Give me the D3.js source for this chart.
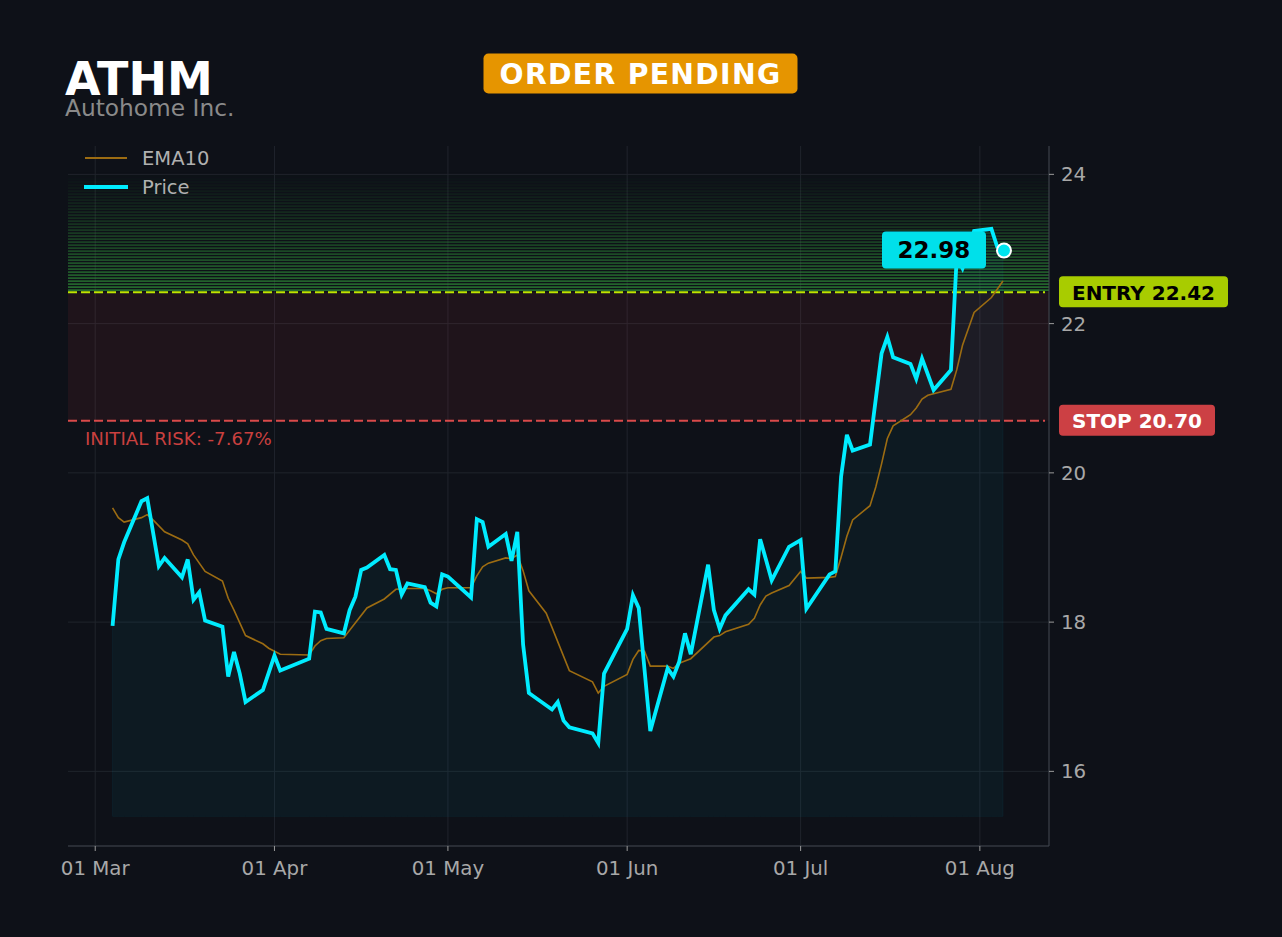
<!DOCTYPE html>
<html><head><meta charset="utf-8">
<script src="https://cdn.jsdelivr.net/npm/d3@7"></script>
<style>html,body{margin:0;padding:0;background:#0e1118;}svg{display:block;font-family:"DejaVu Sans",sans-serif;}</style>
</head><body>
<svg id="c" width="1282" height="937"></svg>
<script>
const ticker = "ATHM";
const company = "Autohome Inc.";
const statusText = "ORDER PENDING";
const entry = 22.42;
const stop = 20.70;
const lastPrice = 22.98;
const riskLabel = "INITIAL RISK: -7.67%";
const yTicks = [16, 18, 20, 22, 24];
const seriesNames = ["EMA10", "Price"];

const priceDates = ["2026-03-04","2026-03-05","2026-03-06","2026-03-09","2026-03-10","2026-03-12","2026-03-13","2026-03-16","2026-03-17","2026-03-18","2026-03-19","2026-03-20","2026-03-23","2026-03-24","2026-03-25","2026-03-26","2026-03-27","2026-03-30","2026-04-01","2026-04-02","2026-04-07","2026-04-08","2026-04-09","2026-04-10","2026-04-13","2026-04-14","2026-04-15","2026-04-16","2026-04-17","2026-04-20","2026-04-21","2026-04-22","2026-04-23","2026-04-24","2026-04-27","2026-04-28","2026-04-29","2026-04-30","2026-05-01","2026-05-05","2026-05-06","2026-05-07","2026-05-08","2026-05-11","2026-05-12","2026-05-13","2026-05-14","2026-05-15","2026-05-19","2026-05-20","2026-05-21","2026-05-22","2026-05-26","2026-05-27","2026-05-28","2026-06-01","2026-06-02","2026-06-03","2026-06-05","2026-06-08","2026-06-09","2026-06-10","2026-06-11","2026-06-12","2026-06-15","2026-06-16","2026-06-17","2026-06-18","2026-06-22","2026-06-23","2026-06-24","2026-06-25","2026-06-26","2026-06-29","2026-07-01","2026-07-02","2026-07-06","2026-07-07","2026-07-08","2026-07-09","2026-07-10","2026-07-13","2026-07-15","2026-07-16","2026-07-17","2026-07-20","2026-07-21","2026-07-22","2026-07-24","2026-07-27","2026-07-28","2026-07-29","2026-07-30","2026-07-31","2026-08-03","2026-08-04","2026-08-05"];
const priceValues = [17.95,18.84,19.07,19.62,19.66,18.75,18.86,18.60,18.84,18.30,18.40,18.02,17.94,17.27,17.60,17.31,16.93,17.09,17.55,17.35,17.51,18.14,18.13,17.91,17.85,18.16,18.34,18.70,18.73,18.90,18.71,18.70,18.37,18.52,18.47,18.26,18.21,18.64,18.61,18.33,19.38,19.34,19.01,19.18,18.82,19.21,17.70,17.05,16.83,16.93,16.68,16.59,16.51,16.38,17.31,17.91,18.36,18.19,16.54,17.38,17.27,17.47,17.85,17.57,18.77,18.16,17.91,18.09,18.44,18.37,19.11,18.84,18.56,19.01,19.10,18.18,18.64,18.68,19.95,20.51,20.30,20.38,21.60,21.82,21.55,21.46,21.26,21.53,21.11,21.38,22.89,22.74,22.95,23.24,23.27,23.03,22.98];

const emaDates = ["2026-03-04","2026-03-05","2026-03-06","2026-03-09","2026-03-10","2026-03-11","2026-03-13","2026-03-16","2026-03-17","2026-03-18","2026-03-20","2026-03-23","2026-03-24","2026-03-25","2026-03-27","2026-03-30","2026-03-31","2026-04-01","2026-04-02","2026-04-07","2026-04-08","2026-04-09","2026-04-10","2026-04-13","2026-04-14","2026-04-17","2026-04-20","2026-04-22","2026-04-24","2026-04-27","2026-04-28","2026-04-29","2026-04-30","2026-05-01","2026-05-05","2026-05-06","2026-05-07","2026-05-08","2026-05-11","2026-05-12","2026-05-13","2026-05-14","2026-05-15","2026-05-18","2026-05-19","2026-05-22","2026-05-26","2026-05-27","2026-05-28","2026-06-01","2026-06-02","2026-06-03","2026-06-04","2026-06-05","2026-06-08","2026-06-09","2026-06-10","2026-06-11","2026-06-12","2026-06-16","2026-06-17","2026-06-18","2026-06-22","2026-06-23","2026-06-24","2026-06-25","2026-06-26","2026-06-29","2026-07-01","2026-07-02","2026-07-06","2026-07-07","2026-07-08","2026-07-09","2026-07-10","2026-07-13","2026-07-14","2026-07-15","2026-07-16","2026-07-17","2026-07-20","2026-07-21","2026-07-22","2026-07-23","2026-07-24","2026-07-27","2026-07-28","2026-07-29","2026-07-31","2026-08-03","2026-08-05"];
const emaValues = [19.53,19.40,19.34,19.40,19.44,19.37,19.21,19.10,19.05,18.90,18.68,18.55,18.32,18.16,17.82,17.71,17.65,17.61,17.57,17.56,17.68,17.75,17.78,17.79,17.89,18.19,18.31,18.44,18.45,18.45,18.42,18.38,18.44,18.46,18.46,18.62,18.74,18.79,18.86,18.85,18.90,18.69,18.42,18.12,17.93,17.35,17.20,17.05,17.14,17.30,17.50,17.62,17.61,17.41,17.41,17.38,17.45,17.48,17.51,17.80,17.82,17.87,17.97,18.05,18.23,18.35,18.39,18.49,18.68,18.59,18.60,18.61,18.87,19.15,19.37,19.56,19.81,20.12,20.46,20.63,20.78,20.87,20.99,21.04,21.06,21.12,21.38,21.71,22.15,22.35,22.57];

(function(){
const parse = d3.utcParse("%Y-%m-%d");
const price = priceDates.map((d,i)=>({date:parse(d), v:priceValues[i]}));
const ema = emaDates.map((d,i)=>({date:parse(d), v:emaValues[i]}));

const W = 1282, H = 937;
const pL = 68, pR = 1049, pT = 146, pB = 846;
const svg = d3.select("#c");
svg.append("rect").attr("width",W).attr("height",H).attr("fill","#0e1118");

const x = d3.scaleUtc()
  .domain([Date.UTC(2026,1,24,7), Date.UTC(2026,7,12,23)])
  .range([pL, pR]);
const y = d3.scaleLinear().domain([15, 24.38]).range([pB, pT]);

const monthTicks = d3.utcMonth.range(Date.UTC(2026,2,1), Date.UTC(2026,7,2));
const fmt = d3.utcFormat("%d %b");

// grid
const grid = svg.append("g");
grid.selectAll(".gx").data(monthTicks).join("line")
  .attr("x1",d=>x(d)).attr("x2",d=>x(d)).attr("y1",pT).attr("y2",pB)
  .attr("stroke","#20242c").attr("stroke-width",1);
grid.selectAll(".gy").data(yTicks).join("line")
  .attr("x1",pL).attr("x2",pR).attr("y1",d=>y(d)).attr("y2",d=>y(d))
  .attr("stroke","#20242c").attr("stroke-width",1);

// risk zone
svg.append("rect").attr("x",pL).attr("width",pR-pL)
  .attr("y",y(entry)).attr("height",y(stop)-y(entry))
  .attr("fill","rgba(215,55,70,0.09)");

// target stripes above entry
const nStripes = 40;
svg.append("g").selectAll("rect").data(d3.range(nStripes)).join("rect")
  .attr("x",pL).attr("width",pR-pL)
  .attr("y",i=>y(entry)-3*(i+1)).attr("height",1.7)
  .attr("fill","#2f9038")
  .attr("opacity",i=>0.72*Math.pow(1-i/nStripes,1.2));

// area under price
const base = d3.min(priceValues)*0.94;
svg.append("path").datum(price)
  .attr("d", d3.area().x(d=>x(d.date)).y0(y(base)).y1(d=>y(d.v)))
  .attr("fill","rgba(0,200,230,0.05)")
  .attr("stroke","rgba(0,200,230,0.06)").attr("stroke-width",1);

// entry / stop lines
svg.append("line").attr("x1",pL).attr("x2",pR-4).attr("y1",y(entry)).attr("y2",y(entry))
  .attr("stroke","#bde600").attr("stroke-width",2).attr("stroke-dasharray","9,4");
svg.append("line").attr("x1",pL).attr("x2",pR-4).attr("y1",y(stop)).attr("y2",y(stop))
  .attr("stroke","#d94a4a").attr("stroke-width",2).attr("stroke-dasharray","9,4");

svg.append("text").attr("x",85).attr("y",y(stop)+24).text(riskLabel)
  .attr("fill","#c9403f").attr("font-size",18.2);

// EMA
svg.append("path").datum(ema)
  .attr("d", d3.line().x(d=>x(d.date)).y(d=>y(d.v)))
  .attr("fill","none").attr("stroke","#9c6c12").attr("stroke-width",1.6);

// Price
svg.append("path").datum(price)
  .attr("d", d3.line().x(d=>x(d.date)).y(d=>y(d.v)))
  .attr("fill","none").attr("stroke","#00ecff").attr("stroke-width",3.8)
  .attr("stroke-linejoin","miter").attr("stroke-miterlimit",4);

// axes
svg.append("line").attr("x1",pL).attr("x2",pR).attr("y1",pB).attr("y2",pB).attr("stroke","#444a52");
svg.append("line").attr("x1",pR).attr("x2",pR).attr("y1",pT).attr("y2",pB).attr("stroke","#444a52");
svg.selectAll(".xt").data(monthTicks).join("line")
  .attr("x1",d=>x(d)).attr("x2",d=>x(d)).attr("y1",pB).attr("y2",pB+5).attr("stroke","#9a9a9a");
svg.selectAll(".xl").data(monthTicks).join("text")
  .attr("x",d=>x(d)).attr("y",pB+29).attr("text-anchor","middle")
  .attr("fill","#a8a8a8").attr("font-size",19.8).text(d=>fmt(d));
svg.selectAll(".yt").data(yTicks).join("line")
  .attr("x1",pR).attr("x2",pR+5).attr("y1",d=>y(d)).attr("y2",d=>y(d)).attr("stroke","#9a9a9a");
svg.selectAll(".yl").data(yTicks).join("text")
  .attr("x",pR+12).attr("y",d=>y(d)+7).attr("fill","#a8a8a8").attr("font-size",19.8).text(d=>d);

// last price dot + label
const last = price[price.length-1];
svg.append("rect").attr("x",x(last.date)-121).attr("y",y(lastPrice)-19).attr("width",104).attr("height",37)
  .attr("rx",4).attr("fill","#00e0ea");
svg.append("text").attr("x",x(last.date)-69).attr("y",y(lastPrice)+8).attr("text-anchor","middle")
  .attr("font-weight","bold").attr("font-size",23).attr("fill","#000").text(lastPrice.toFixed(2));
svg.append("circle").attr("cx",x(last.date)+1).attr("cy",y(last.v)).attr("r",7)
  .attr("fill","#00e5f0").attr("stroke","#ffffff").attr("stroke-width",2);

// entry/stop labels
svg.append("rect").attr("x",1059).attr("y",y(entry)-16).attr("width",169).attr("height",31).attr("rx",4).attr("fill","#a8cc00");
svg.append("text").attr("x",1143.5).attr("y",y(entry)+7.5).attr("text-anchor","middle")
  .attr("font-weight","bold").attr("font-size",20).attr("fill","#000").text("ENTRY " + entry.toFixed(2));
svg.append("rect").attr("x",1059).attr("y",y(stop)-16).attr("width",156).attr("height",31).attr("rx",4).attr("fill","#cc4044");
svg.append("text").attr("x",1137).attr("y",y(stop)+7.5).attr("text-anchor","middle")
  .attr("font-weight","bold").attr("font-size",20).attr("fill","#fff").text("STOP " + stop.toFixed(2));

// title
svg.append("text").attr("x",65).attr("y",95).attr("fill","#fff").attr("font-weight","bold").attr("font-size",46).text(ticker);
svg.append("text").attr("x",65).attr("y",116).attr("fill","#8a8a8a").attr("font-size",23.3).text(company);

// status badge
svg.append("rect").attr("x",483.5).attr("y",53.5).attr("width",314).attr("height",40).attr("rx",5).attr("fill","#e69500");
svg.append("text").attr("x",640.5).attr("y",84).attr("text-anchor","middle").attr("fill","#fff")
  .attr("font-weight","bold").attr("font-size",28.3).attr("letter-spacing",1.3).text(statusText);

// legend
const lg = svg.append("g");
lg.append("line").attr("x1",85).attr("x2",127).attr("y1",158).attr("y2",158).attr("stroke","#9c6c12").attr("stroke-width",1.8);
lg.append("line").attr("x1",84).attr("x2",128).attr("y1",187).attr("y2",187).attr("stroke","#00ecff").attr("stroke-width",4);
lg.append("text").attr("x",142).attr("y",165).attr("fill","#b0b0b0").attr("font-size",19.5).text(seriesNames[0]);
lg.append("text").attr("x",142).attr("y",194).attr("fill","#b0b0b0").attr("font-size",19.5).text(seriesNames[1]);
})();
</script>
</body></html>
